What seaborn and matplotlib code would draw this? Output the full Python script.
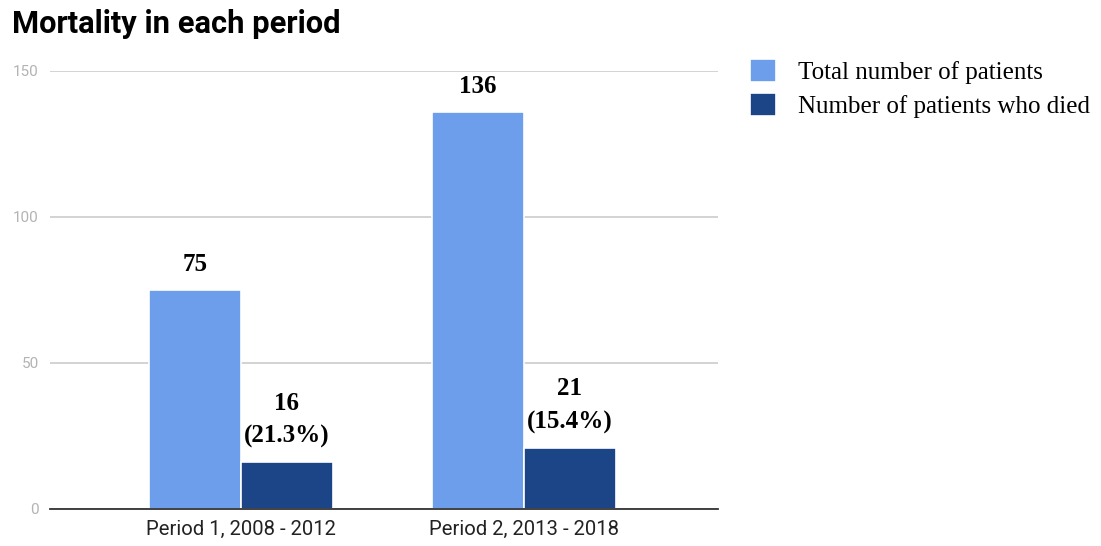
import matplotlib
matplotlib.use("Agg")
import matplotlib.pyplot as plt
import seaborn as sns
import pandas as pd

periods = ["Period 1, 2008 - 2012", "Period 2, 2013 - 2018"]
series = ["Total number of patients", "Number of patients who died"]
total_patients = [75, 136]
died_patients = [16, 21]
yticks = [0, 50, 100, 150]
colors = ["#6d9eeb", "#1c4587"]

df = pd.DataFrame({
    "period": periods * 2,
    "series": [series[0]] * 2 + [series[1]] * 2,
    "value": total_patients + died_patients,
})

sns.set_theme(style="white")
plt.rcParams["font.family"] = ["Roboto", "DejaVu Sans"]

fig = plt.figure(figsize=(11.01, 5.46), dpi=100)
ax = fig.add_axes([50 / 1101, 1 - 509 / 546, 668 / 1101, 438 / 546])

sns.barplot(data=df, x="period", y="value", hue="series", palette=colors,
            saturation=1, width=0.65, edgecolor="white", linewidth=1.2,
            ax=ax, zorder=3)

ax.set_ylim(0, 150)
ax.set_xlim(-0.675, 1.686)
ax.set_yticks(yticks)
ax.set_yticklabels([str(v) for v in yticks], color="#b3b3b3", fontsize=11)
ax.tick_params(axis="y", length=0, pad=8)
ax.tick_params(axis="x", length=0, pad=8, labelsize=14.6, labelcolor="#222222")
ax.set_xlabel("")
ax.set_ylabel("")
ax.grid(axis="y", color="#cccccc", linewidth=1.2, zorder=0)
ax.grid(axis="x", visible=False)
for s in ["top", "right", "left"]:
    ax.spines[s].set_visible(False)
ax.spines["bottom"].set_color("#333333")
ax.spines["bottom"].set_linewidth(1.3)
ax.spines["bottom"].set_zorder(4)

# bar labels
containers = ax.containers
lbl_total = [str(v) for v in total_patients]
lbl_died = [f"{d}\n({d / t * 100:.1f}%)" for d, t in zip(died_patients, total_patients)]
for cont, labels in zip(containers, [lbl_total, lbl_died]):
    texts = ax.bar_label(cont, labels=labels, padding=10, fontsize=18,
                         fontweight="bold", family="Liberation Serif",
                         color="black")
    for t in texts:
        t.set_linespacing(1.55)
        t.set_multialignment("center")

# legend
handles, labels = ax.get_legend_handles_labels()
if ax.get_legend() is not None:
    ax.get_legend().remove()
fig.legend(handles, labels, loc="upper left", bbox_to_anchor=(742 / 1101, 1 - 51 / 546),
           frameon=False, prop={"family": "Liberation Serif", "size": 18},
           labelcolor="black",
           handlelength=1.05, handleheight=1.05, handletextpad=0.9,
           labelspacing=0.38, borderaxespad=0, borderpad=0.3)

fig.text(12 / 1101, 1 - 33 / 546, "Mortality in each period", fontsize=22.2,
         fontweight="bold", family="Roboto", color="black")

fig.savefig("out.png", dpi=100)
